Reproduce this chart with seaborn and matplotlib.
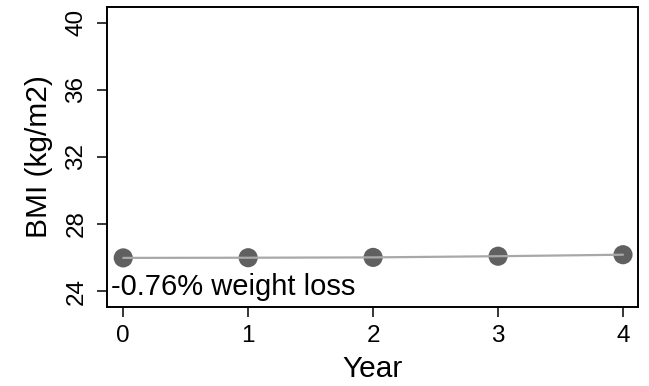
import matplotlib
matplotlib.use("Agg")
import matplotlib.pyplot as plt
import seaborn as sns
import pandas as pd

years = [0, 1, 2, 3, 4]
bmi = [25.98, 25.99, 26.01, 26.08, 26.17]
y_ticks = [24, 28, 32, 36, 40]
annotation = "-0.76% weight loss"

df = pd.DataFrame({"Year": years, "BMI": bmi})

sns.set_theme(style="white")
plt.rcParams["font.family"] = ["Liberation Sans", "DejaVu Sans"]

fig = plt.figure(figsize=(6.49, 3.86), dpi=100)
ax = fig.add_axes([107 / 649, 1 - 307 / 386, (638 - 107) / 649, (307 - 7) / 386])

sns.scatterplot(data=df, x="Year", y="BMI", ax=ax, color="#606060", s=190,
                edgecolor="none", zorder=2)
sns.lineplot(data=df, x="Year", y="BMI", ax=ax, color="#a8a8a8", linewidth=1.6,
             zorder=3)

ax.set_xlim(-0.13, 4.12)
ax.set_ylim(23.05, 40.95)
ax.set_xticks(years)
ax.set_xticklabels([str(v) for v in years])
ax.set_yticks(y_ticks)
ax.set_yticklabels([str(v) for v in y_ticks], rotation=90, va="center")
ax.tick_params(axis="both", which="major", length=7, width=1.1, color="black",
               labelsize=17.5, labelcolor="black", direction="out",
               left=True, bottom=True)
ax.tick_params(axis="x", pad=6)
ax.tick_params(axis="y", pad=7)
for s in ax.spines.values():
    s.set_color("black")
    s.set_linewidth(1.4)

ax.set_xlabel("Year", fontsize=21.5, color="black", labelpad=6)
ax.set_ylabel("BMI (kg/m2)", fontsize=21.5, color="black", labelpad=9)

ax.text(0.008, 0.02, annotation, transform=ax.transAxes, fontsize=21,
        color="black", ha="left", va="bottom")

fig.savefig("out.png", dpi=100)
